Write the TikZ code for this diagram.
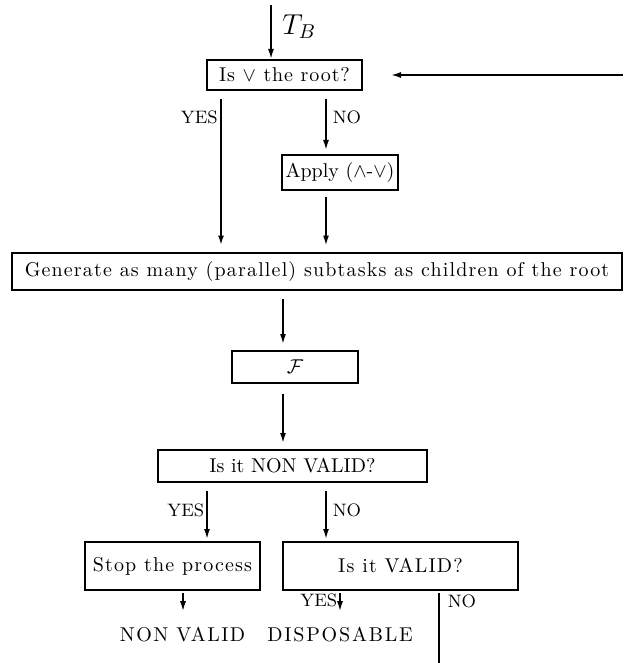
\documentclass[tikz,border=0pt]{standalone}
\usepackage{amsmath,amssymb}
\usepackage{fontspec}
\setmainfont{Latin Modern Roman}
\newfontfamily\lsA[LetterSpace=4.5]{Latin Modern Roman}
\newfontfamily\lsB[LetterSpace=5.8]{Latin Modern Roman}
\newfontfamily\lsC[LetterSpace=6]{Latin Modern Roman}
\newfontfamily\lsD[LetterSpace=7.5]{Latin Modern Roman}
\newfontfamily\lsE[LetterSpace=9]{Latin Modern Roman}
\usetikzlibrary{arrows.meta}
\begin{document}
\begin{tikzpicture}[x=0.5pt,y=-0.5pt,
  box/.style={draw,line width=1pt,inner sep=0pt,align=center,font=\normalsize},
  arr/.style={-{Latex[length=5pt,width=3pt]},line width=0.8pt},
  thickarr/.style={-{Latex[length=5pt,width=3pt]},line width=1.3pt},
  lbl/.style={font=\small,inner sep=1pt},
  txt/.style={inner sep=0pt,font=\normalsize}]
\useasboundingbox (0,0) rectangle (624,663);
% boxes
\node[box,minimum width=77.5pt,minimum height=15pt] (root) at (284.5,75) {\lsA Is $\vee$ the root?};
\node[box,minimum width=58pt,minimum height=17.5pt] (apply) at (340,172.5) {Apply ($\wedge$-$\vee$)};
\node[box,minimum width=305pt,minimum height=18.5pt] (gen) at (317,271) {\lsB Generate as many (parallel) subtasks as children of the root};
\node[box,minimum width=63pt,minimum height=16pt] (F) at (295,367) {$\mathcal{F}$};
\node[box,minimum width=134.5pt,minimum height=16pt] (nv) at (292.5,466) {Is it NON VALID?};
\node[box,minimum width=87.5pt,minimum height=24pt] (stop) at (172.5,566) {\lsB Stop the process};
\node[box,minimum width=117.5pt,minimum height=24pt] (valid) at (400.5,566) {\lsC Is it VALID?};
\node[txt] (nvt) at (182.5,635) {\lsD NON VALID};
\node[txt] (disp) at (340,635) {\lsE DISPOSABLE};
% coordinates
\coordinate (tb) at (271,5);
\coordinate (rin) at (623,75);
\coordinate (x221) at (221,0);
\coordinate (x326) at (326,0);
\coordinate (x283) at (283,0);
\coordinate (x207) at (207,0);
\coordinate (x183) at (183,0);
\coordinate (x340) at (340,0);
\coordinate (x439) at (439,0);
\coordinate (bend) at (439,663);
% connectors
\draw[arr] (tb) -- (root.north -| tb) node[pos=0.4,right=2pt,font=\Large] (tbl) {$T_B$};
\draw[arr,shorten >=14pt] (rin) -- (root.east);
\draw[thickarr,shorten <=4pt,shorten >=3pt] (root.south -| x221) -- (gen.north -| x221)
  node[lbl,pos=0.165,anchor=east] (yes1) {YES};
\draw[arr,shorten <=4pt,shorten >=2pt] (root.south -| x326) -- (apply.north -| x326)
  node[lbl,pos=0.42,anchor=west,xshift=2pt] (no1) {NO};
\draw[arr,shorten <=3pt,shorten >=3pt] (apply.south -| x326) -- (gen.north -| x326);
\draw[arr,shorten <=4pt,shorten >=3pt] (gen.south -| x283) -- (F.north -| x283);
\draw[arr,shorten <=5pt,shorten >=3pt] (F.south -| x283) -- (nv.north -| x283);
\draw[arr,shorten <=4pt,shorten >=1pt] (nv.south -| x207) -- (stop.north -| x207)
  node[lbl,pos=0.47,anchor=east] (yes2) {YES};
\draw[arr,shorten <=4pt,shorten >=1pt] (nv.south -| x326) -- (valid.north -| x326)
  node[lbl,pos=0.47,anchor=west,xshift=2pt] (no2) {NO};
\draw[arr,shorten <=1pt,shorten >=8pt] (stop.south -| x183) -- (nvt.north -| x183);
\draw[arr,shorten <=1pt,shorten >=8pt] (valid.south -| x340) -- (disp.north -| x340)
  node[lbl,pos=0.26,anchor=east] (yes3) {YES};
\draw[line width=0.8pt,shorten <=1pt] (valid.south -| x439) -- (bend)
  node[lbl,pos=0.14,anchor=west,xshift=3pt] (no3) {NO};
\end{tikzpicture}
\end{document}
